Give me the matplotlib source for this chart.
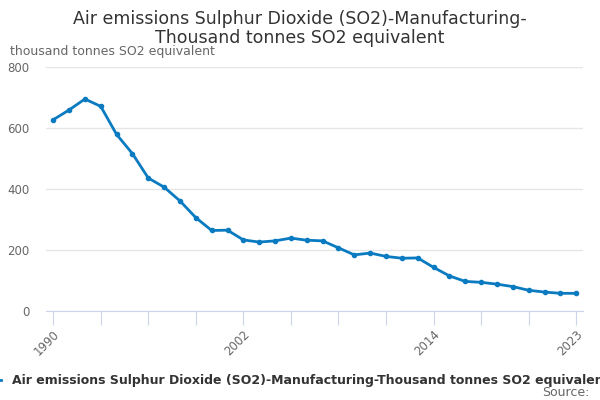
import matplotlib
matplotlib.use("Agg")
import matplotlib.pyplot as plt
from matplotlib.lines import Line2D

years = list(range(1990, 2024))
so2 = [627, 659, 695, 671, 579, 516, 436, 406, 361, 306,
       264, 265, 233, 226, 230, 239, 232, 230, 207, 184,
       190, 179, 173, 174, 143, 115, 97, 94, 88, 80,
       68, 62, 58, 58]
tick_years = list(range(1990, 2024, 3))
label_years = [1990, 2002, 2014, 2023]
series_name = "Air emissions Sulphur Dioxide (SO2)-Manufacturing-Thousand tonnes SO2 equivalent"
title = "Air emissions Sulphur Dioxide (SO2)-Manufacturing-\nThousand tonnes SO2 equivalent"
unit = "thousand tonnes SO2 equivalent"

line_col = "#0a7bc1"
axis_col = "#ccd6eb"
grid_col = "#e6e6e6"
text_grey = "#666666"

fig = plt.figure(figsize=(6, 4), dpi=100)
ax = fig.add_axes([0.077, 0.2225, 0.895, 0.61])

ax.plot(years, so2, color=line_col, lw=2, marker="o", ms=3)

ax.set_xlim(1989.56, 2023.44)
ax.set_ylim(0, 800)
ax.set_yticks([0, 200, 400, 600, 800])
ax.grid(axis="y", color=grid_col, lw=1)
ax.set_axisbelow(True)

ax.set_xticks(tick_years)
ax.set_xticklabels([str(y) if y in label_years else "" for y in tick_years],
                   rotation=45, ha="right", rotation_mode="anchor")
ax.tick_params(axis="x", length=10, color=axis_col, labelcolor=text_grey,
               labelsize=8.5, pad=2)
ax.tick_params(axis="y", length=0, labelcolor=text_grey, labelsize=8.5, pad=12)

for s in ["top", "right", "left"]:
    ax.spines[s].set_visible(False)
ax.spines["bottom"].set_color(axis_col)

fig.text(0.5, 0.975, title, ha="center", va="top", fontsize=12.5, color="#333333",
         linespacing=1.05)
fig.text(0.017, 0.855, unit, ha="left", va="bottom", fontsize=9, color=text_grey)

handle = Line2D([], [], color=line_col, lw=2)
fig.legend([handle], [series_name], loc="center left", bbox_to_anchor=(-0.0155, 0.048),
           frameon=False, prop={"weight": "bold", "size": 9}, labelcolor="#333333",
           handlelength=0.8, handletextpad=0.9, borderaxespad=0, borderpad=0)
fig.text(0.982, 0.02, "Source:", ha="right", va="center", fontsize=9, color=text_grey)

fig.savefig("out.png", dpi=100)
